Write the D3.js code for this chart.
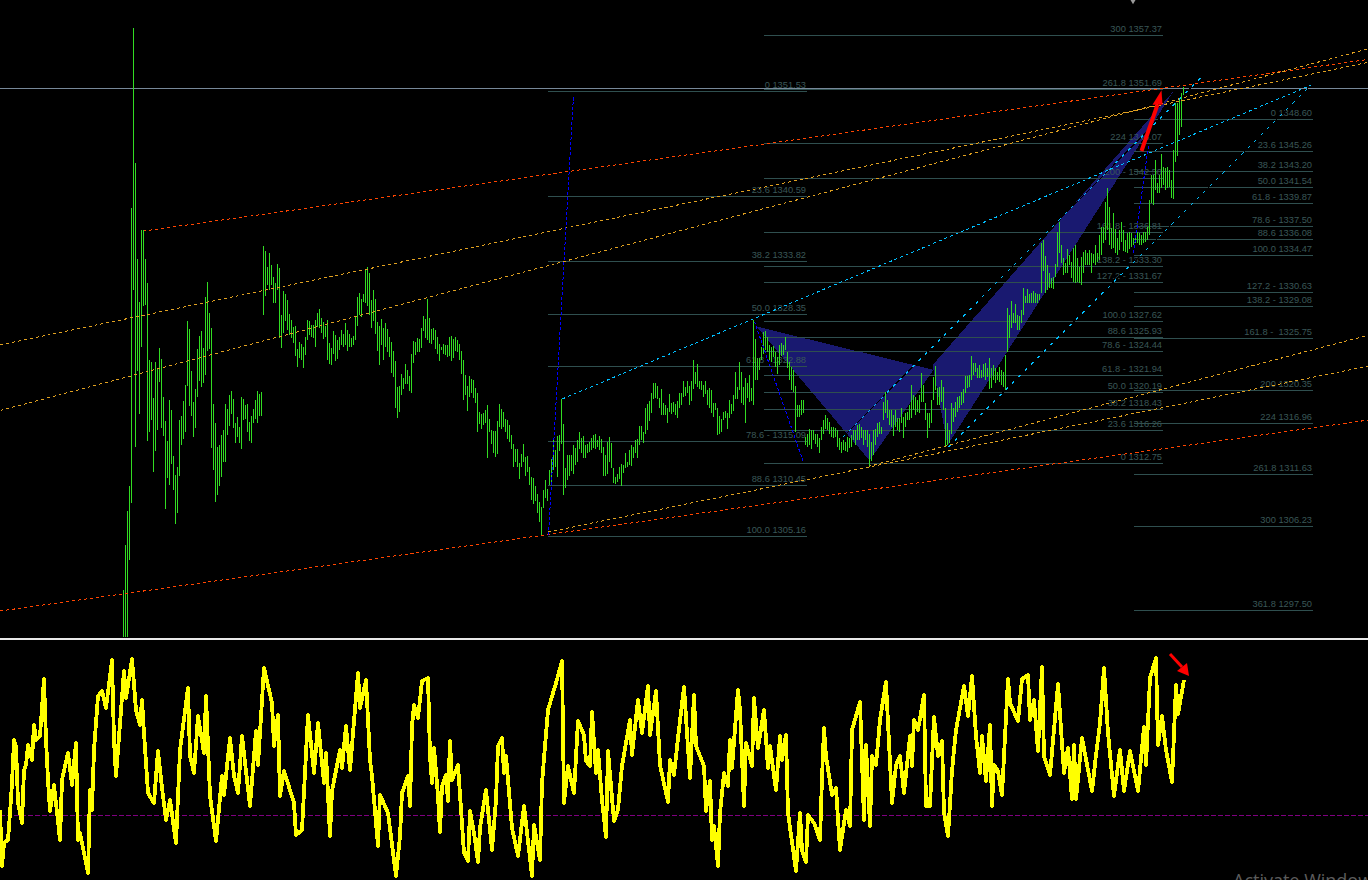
<!DOCTYPE html>
<html>
<head>
<meta charset="utf-8">
<script src="https://cdn.jsdelivr.net/npm/d3@7"></script>
<style>
  html, body { margin: 0; background: #000; overflow: hidden; }
  svg { display: block; }
  text { font-family: "Liberation Sans", Arial, sans-serif; }
</style>
</head>
<body>
<svg id="chart" width="1368" height="880"></svg>
<script>
// first bar of barHigh / barLow on the time axis
const firstBar = 61;
const barHigh = [1299.5,1304.1,1307.7,1310.3,1339.1,1357.8,1343.8,1333.8,1329.3,1336.8,1336.8,1333.8,1331.3,1323.3,1323.1,1319.4,1323.1,1322.4,1324.6,1323.4,
1319.5,1317.0,1314.9,1319.2,1318.1,1313.4,1311.4,1312.2,1317.1,1317.5,1319.1,1320.7,1327.4,1326.5,1322.2,1319.0,1320.3,1324.5,1325.8,1326.3,
1324.6,1329.9,1331.4,1328.2,1326.6,1318.8,1316.8,1314.3,1314.5,1315.6,1316.1,1318.8,1318.2,1319.7,1320.1,1319.3,1316.8,1317.4,1316.4,1319.5,
1319.3,1318.7,1318.8,1316.9,1317.5,1318.2,1319.2,1320.1,1319.8,1320.0,1335.1,1334.6,1333.0,1334.4,1333.2,1331.9,1331.3,1333.3,1332.9,1328.0,
1330.5,1330.2,1329.6,1328.1,1327.5,1326.7,1326.9,1324.5,1325.2,1325.0,1324.7,1325.7,1327.5,1327.4,1327.0,1327.0,1327.5,1328.2,1328.6,1327.7,
1327.3,1326.9,1327.5,1325.1,1324.6,1326.3,1325.9,1325.4,1325.7,1326.4,1326.0,1327.2,1326.4,1326.0,1325.6,1325.8,1327.9,1329.9,1330.3,1329.7,
1330.2,1332.7,1333.0,1332.4,1329.5,1330.6,1329.7,1327.3,1326.9,1327.6,1326.6,1327.2,1326.5,1325.7,1325.2,1324.3,1323.2,1320.5,1320.6,1321.9,
1321.5,1322.9,1322.3,1321.7,1324.0,1325.3,1325.2,1325.6,1325.5,1326.6,1327.9,1327.6,1329.7,1327.7,1326.5,1326.6,1326.4,1325.7,1325.0,1324.7,
1325.0,1324.9,1324.9,1325.7,1325.8,1325.5,1325.7,1325.4,1325.0,1324.3,1323.3,1321.8,1320.6,1321.7,1321.4,1321.3,1320.4,1319.9,1317.9,1317.7,
1317.8,1318.1,1318.7,1317.2,1316.1,1316.0,1316.0,1317.0,1318.8,1318.2,1317.9,1317.2,1317.1,1316.6,1315.6,1314.6,1314.1,1314.1,1312.6,1313.6,
1314.6,1313.3,1313.4,1312.2,1311.2,1311.1,1310.3,1309.4,1308.6,1308.1,1309.8,1310.9,1310.0,1311.9,1313.1,1315.2,1314.0,1315.4,1315.6,1319.3,
1316.7,1312.1,1313.5,1313.5,1313.5,1314.5,1314.2,1315.0,1315.9,1315.2,1315.4,1314.5,1314.6,1314.8,1315.2,1315.5,1315.7,1315.0,1315.4,1315.1,
1314.3,1313.5,1314.8,1315.3,1314.7,1312.1,1311.2,1311.5,1312.2,1312.5,1312.4,1313.7,1312.8,1314.0,1314.5,1314.3,1315.0,1315.1,1316.5,1316.5,
1315.9,1318.4,1318.8,1319.1,1319.9,1320.9,1320.9,1320.6,1319.4,1320.3,1318.9,1318.7,1318.3,1319.8,1318.9,1319.0,1318.8,1319.1,1319.9,1319.9,
1321.2,1320.5,1321.2,1320.6,1321.2,1323.3,1322.1,1322.9,1321.2,1321.2,1320.7,1321.2,1320.2,1320.4,1320.2,1318.9,1318.9,1318.3,1317.5,1317.2,
1317.9,1318.0,1317.8,1319.2,1318.8,1319.7,1322.1,1320.5,1323.1,1322.1,1320.5,1321.5,1320.9,1321.8,1320.4,1327.5,1325.5,1323.5,1323.5,1324.7,
1326.2,1326.3,1325.7,1324.9,1324.7,1324.8,1324.2,1323.6,1324.9,1325.1,1324.9,1325.7,1324.2,1323.1,1322.6,1322.3,1320.6,1318.7,1318.7,1319.2,
1319.2,1315.3,1315.7,1316.2,1316.1,1316.1,1315.7,1315.7,1315.2,1316.4,1317.1,1317.6,1317.3,1316.9,1316.4,1316.4,1316.3,1316.1,1315.2,1314.8,
1315.0,1314.8,1315.3,1315.2,1315.5,1316.1,1316.1,1316.6,1316.7,1316.4,1316.1,1316.1,1316.1,1315.7,1314.8,1316.1,1316.2,1316.8,1316.9,1316.4,
1319.0,1320.0,1319.2,1318.1,1318.1,1317.6,1318.1,1317.3,1317.3,1318.4,1317.4,1317.8,1317.9,1318.7,1320.7,1319.7,1319.5,1319.2,1319.7,1322.0,
1320.7,1318.9,1317.8,1317.8,1319.2,1321.6,1322.7,1320.4,1320.5,1321.3,1320.5,1318.3,1316.8,1316.1,1318.9,1318.4,1319.0,1319.5,1319.6,1320.0,
1320.3,1321.7,1321.7,1321.8,1323.7,1323.0,1323.0,1322.5,1322.8,1322.3,1322.9,1323.0,1322.5,1323.5,1322.5,1322.8,1322.5,1322.1,1322.6,1322.3,
1322.1,1323.8,1328.7,1328.0,1329.4,1328.2,1329.1,1328.0,1327.9,1328.5,1330.8,1330.0,1330.7,1330.2,1330.3,1330.5,1330.3,1330.2,1330.2,1335.5,
1335.8,1334.1,1333.2,1332.4,1331.8,1331.9,1333.3,1336.6,1337.6,1335.3,1333.9,1333.4,1334.8,1334.2,1333.5,1334.9,1335.3,1333.9,1333.0,1334.0,
1334.5,1334.7,1334.4,1334.7,1334.4,1334.3,1335.3,1334.4,1336.3,1337.1,1337.1,1339.7,1341.2,1339.2,1337.0,1338.6,1336.9,1336.0,1336.8,1337.6,
1336.8,1335.8,1336.5,1336.6,1336.5,1336.0,1336.3,1336.6,1336.5,1336.3,1336.6,1336.6,1337.1,1339.9,1342.5,1342.5,1344.1,1341.7,1342.5,1344.7,
1343.3,1343.2,1343.3,1343.0,1342.0,1345.1,1350.0,1350.0,1350.3,1351.0,1351.6];
const barLow = [1294.3,1294.3,1294.3,1302.6,1308.5,1330.6,1314.3,1322.2,1317.7,1324.7,1328.9,1329.0,1314.9,1315.9,1317.1,1311.7,1313.9,1316.1,1321.0,1316.3,
1315.4,1307.9,1311.1,1310.4,1312.5,1309.8,1306.3,1307.5,1311.3,1314.5,1315.1,1315.9,1320.6,1318.6,1317.5,1315.3,1316.3,1319.5,1321.2,1320.5,
1320.9,1321.8,1324.3,1324.5,1314.2,1311.9,1308.6,1309.3,1310.3,1311.2,1312.7,1312.8,1315.5,1316.5,1317.7,1316.3,1314.7,1315.3,1314.7,1314.1,
1317.1,1317.2,1315.9,1314.9,1314.7,1316.8,1317.2,1316.8,1317.5,1317.5,1328.0,1330.0,1331.1,1330.6,1331.1,1329.2,1329.2,1330.6,1325.6,1324.6,
1326.1,1327.4,1326.4,1325.9,1325.6,1325.1,1323.7,1322.6,1323.5,1323.3,1322.5,1323.8,1325.4,1325.9,1325.7,1325.6,1324.7,1326.8,1326.6,1326.1,
1325.5,1325.7,1323.3,1322.9,1322.8,1324.0,1323.2,1323.4,1324.4,1324.9,1324.7,1324.9,1324.3,1324.7,1324.7,1324.9,1325.4,1326.9,1328.0,1327.8,
1329.3,1329.2,1328.9,1328.0,1326.6,1327.4,1326.0,1324.3,1322.8,1324.9,1323.3,1324.7,1324.2,1323.6,1322.0,1321.6,1318.3,1317.3,1317.9,1319.7,
1320.3,1320.8,1320.8,1320.1,1319.9,1323.0,1323.8,1324.2,1324.2,1324.6,1326.3,1325.6,1325.4,1325.1,1325.0,1325.4,1324.5,1324.0,1323.2,1324.4,
1323.9,1323.8,1323.6,1323.7,1323.2,1323.5,1324.3,1324.2,1323.3,1321.9,1319.2,1319.7,1318.0,1319.5,1319.9,1319.4,1318.9,1315.9,1316.7,1316.2,
1316.6,1316.8,1313.2,1315.9,1314.6,1313.7,1313.3,1313.6,1316.4,1316.2,1316.4,1315.9,1315.1,1314.8,1314.1,1312.2,1312.7,1312.2,1311.0,1312.2,
1312.7,1311.3,1311.7,1310.4,1308.8,1308.4,1308.7,1307.5,1306.5,1305.1,1308.0,1309.0,1308.7,1310.4,1310.7,1311.9,1312.2,1311.2,1313.9,1314.6,
1309.3,1310.1,1310.9,1311.3,1311.8,1311.5,1312.4,1312.8,1314.1,1313.7,1313.2,1313.2,1313.7,1313.8,1314.0,1314.2,1314.1,1314.3,1314.0,1313.7,
1311.3,1311.3,1311.5,1312.7,1312.1,1310.6,1310.5,1310.7,1311.0,1310.3,1311.6,1312.1,1312.2,1312.4,1312.3,1313.2,1313.7,1313.2,1314.5,1315.0,
1314.7,1315.7,1316.1,1317.0,1317.8,1319.3,1319.4,1319.3,1318.3,1317.6,1317.6,1317.6,1316.8,1317.9,1317.7,1317.9,1317.6,1317.3,1318.4,1318.7,
1319.5,1319.6,1319.9,1318.7,1319.1,1320.3,1320.8,1320.5,1320.3,1320.2,1319.5,1319.8,1318.7,1318.4,1317.8,1317.4,1318.1,1315.5,1315.7,1315.9,
1317.1,1317.3,1316.2,1317.3,1317.7,1318.0,1319.3,1319.3,1320.2,1318.9,1318.7,1316.8,1319.4,1319.0,1319.1,1318.7,1321.3,1321.3,1322.3,1323.3,
1324.0,1324.4,1324.2,1323.3,1323.1,1323.6,1322.6,1321.9,1322.8,1323.7,1323.8,1324.4,1322.5,1321.3,1320.2,1320.0,1315.9,1317.4,1317.4,1317.6,
1317.8,1314.5,1314.3,1314.5,1314.1,1315.0,1314.6,1314.3,1313.7,1315.0,1315.7,1316.2,1316.1,1315.7,1315.3,1315.2,1315.3,1314.3,1314.0,1313.7,
1314.0,1313.9,1313.8,1314.2,1314.3,1315.0,1314.5,1315.0,1315.0,1315.2,1314.5,1315.0,1314.3,1312.3,1312.9,1313.5,1314.5,1315.3,1315.7,1315.7,
1317.1,1317.8,1317.3,1316.6,1316.4,1315.4,1316.4,1316.1,1315.9,1316.8,1315.2,1316.4,1317.1,1317.1,1317.3,1318.1,1317.6,1317.9,1317.8,1319.0,
1319.0,1317.1,1315.2,1316.3,1316.8,1319.2,1320.2,1318.7,1318.7,1319.0,1318.1,1314.3,1314.5,1314.7,1315.7,1316.9,1317.4,1317.9,1318.4,1318.7,
1318.9,1319.9,1320.4,1320.5,1321.3,1321.8,1322.1,1321.5,1321.5,1321.5,1321.6,1321.3,1321.6,1320.3,1320.4,1321.3,1320.9,1321.3,1321.0,1320.7,
1320.5,1320.2,1324.2,1325.6,1326.6,1327.2,1327.2,1326.4,1326.4,1327.2,1328.0,1329.2,1329.2,1329.2,1329.2,1329.2,1329.2,1329.2,1329.5,1330.3,
1332.6,1330.3,1330.6,1330.8,1330.8,1330.7,1331.9,1333.0,1334.4,1333.4,1332.1,1332.4,1332.4,1333.2,1331.8,1331.4,1331.3,1331.4,1331.3,1331.1,
1332.3,1333.2,1333.2,1333.2,1332.3,1333.4,1333.2,1333.5,1333.7,1334.2,1335.5,1335.8,1336.8,1335.3,1334.8,1334.9,1334.4,1334.2,1334.7,1335.6,
1334.6,1334.5,1334.4,1334.8,1335.0,1335.3,1335.5,1335.5,1335.3,1335.3,1335.5,1335.6,1335.8,1336.3,1339.6,1339.4,1341.0,1340.6,1340.6,1341.2,
1341.5,1341.0,1341.2,1341.3,1340.1,1340.0,1343.9,1344.5,1346.7,1347.5,1350.8];

// oscillator turning points: bar number and value
const oscBar = [0,1,2,4,5,6,7,8,9,11,12,13,14,16,17,18,20,22,23,24,25,27,30,31,34,36,38,39,40,44,45,46,47,49,51,53,56,57,58,62,63,66,68,70,71,72,74,77,79,81,83,85,88,90,94,95,97,99,102,103,105,108,111,112,115,117,119,121,125,128,129,132,136,137,139,140,142,147,148,151,154,157,159,162,163,165,166,170,171,173,175,179,180,183,185,186,189,190,194,198,
200,201,204,205,206,207,209,211,214,215,216,217,219,220,221,223,224,225,226,229,232,234,235,237,239,240,243,246,248,249,251,252,253,256,259,262,266,267,270,271,274,278,281,282,284,287,289,292,293,295,296,298,299,301,303,304,307,309,311,313,315,316,319,321,324,325,328,330,334,335,337,339,342,345,347,348,352,353,355,356,357,359,360,362,364,365,366,369,370,372,373,376,377,379,382,384,385,388,390,391,393,394,398,
400,401,403,404,407,410,411,412,413,416,418,420,423,425,426,430,432,433,435,436,438,440,443,446,448,450,452,455,456,457,459,462,463,465,467,469,471,472,474,476,478,482,484,486,488,490,491,493,495,496,497,499,501,504,505,509,511,514,515,517,519,521,522,525,529,532,534,536,537,538,541,546,548,550,552,554,557,560,562,565,569,572,573,575,578,579,581,583,586,588,589,592];
const oscValue = [5,-51,-28,-25,2,32,75,69,12,-8,45,50,70,55,90,75,79,136,75,35,4,30,-25,35,62,30,72,-25,-18,-58,25,5,65,119,124,107,155,75,39,144,117,156,105,90,115,82,22,12,64,27,-5,15,-28,65,127,59,42,99,62,119,19,-26,39,20,77,39,22,79,9,84,50,147,112,69,100,19,44,12,-20,-15,100,42,92,32,62,-21,24,65,47,89,45,142,107,135,55,39,-31,20,2,-61,
-21,22,39,9,89,110,97,134,137,59,32,67,19,-17,29,40,14,74,35,50,-38,-46,4,-18,-47,-13,25,-35,15,69,77,42,59,-13,-41,9,-61,-10,-45,32,105,132,154,12,49,22,94,80,54,49,103,42,65,15,-22,64,-6,5,49,72,95,60,115,82,129,80,124,50,13,55,40,77,128,37,120,69,49,4,34,-25,-11,-51,2,42,29,75,47,125,105,9,72,49,117,67,105,47,69,25,79,55,80,2,-56,
2,-35,-47,0,-8,-25,37,87,59,20,27,-35,5,-11,85,113,-5,70,-11,59,50,95,133,12,50,59,22,79,49,95,85,120,9,9,98,59,74,2,-21,44,85,129,99,139,79,42,79,34,90,9,50,44,20,136,112,94,136,140,95,115,64,148,59,40,131,42,67,16,70,16,77,24,60,92,147,82,19,65,24,64,24,88,50,137,157,70,99,65,33,130,101,135];
const oscLevel = 0;

// retracement levels, text as printed on the chart, price is the last word
const fibLeft = ['0 1351.53','23.6 1340.59','38.2 1333.82','50.0 1328.35','61.8 - 1322.88','78.6 - 1315.09','88.6 1310.45','100.0 1305.16'];
const fibMiddle = ['300 1357.37','261.8 1351.69','224 1346.07','200 - 1342.50','161.8 - 1336.81','138.2 - 1333.30','127.2 - 1331.67','100.0 1327.62','88.6 1325.93','78.6 - 1324.44','61.8 - 1321.94','50.0 1320.19','38.2 1318.43','23.6 1316.26','0 1312.75'];
const fibRight = ['0 1348.60','23.6 1345.26','38.2 1343.20','50.0 1341.54','61.8 - 1339.87','78.6 - 1337.50','88.6 1336.08','100.0 1334.47','127.2 - 1330.63','138.2 - 1329.08','161.8 -  1325.75','200 1320.35','224 1316.96','261.8 1311.63','300 1306.23','361.8 1297.50'];
// first and last bar of each retracement
const fibLeftSpan = [273, 402.5];
const fibMiddleSpan = [381, 580.5];
const fibRightSpan = [566, 655.5];
const bidPrice = 1351.8;

// trend lines: bar, price, bar, price
const redLines = [[-0.5,1297.3,683.5,1317.1],[71,1336.7,683.5,1354.5]];
const orangeLines = [[-0.5,1324.9,683.5,1354.2],[-0.5,1318.1,683.5,1355.6],[273.5,1305.5,683.5,1322.7],[433.5,1312.3,683.5,1325.9]];
const cyanLines = [[280.5,1319.3,654.5,1351.8]];
const cyanSteepLines = [[420.5,1315.3,601,1352.9],[473.5,1314.3,654.5,1351.8]];
const blueLines = [[273.5,1305.2,286,1350.8],[376.5,1327.3,401,1312.7],[566,1334.4,573.5,1345.6]];

// harmonic pattern wings: [bar, price]
const wingOne = [[377.5,1326.8],[434,1312.9],[466,1322.3]];
const wingTwo = [[465.5,1322.8],[473,1314.5],[586,1351.2]];

// arrows: [bar, price] and [bar, osc value]
const upArrowShaft = [[570,1345.0],[578,1349.8]];
const upArrowHead = [[575.5,1349.8],[580,1351.3],[580.5,1349.8]];
const downArrowShaft = [[585,161],[591,148]];
const downArrowHead = [[588.5,144],[594.5,139],[593.5,152]];

const svg = d3.select('#chart');
svg.append('rect').attr('width', 1368).attr('height', 880).attr('fill', '#000');

const x = d3.scaleLinear().domain([0, 684]).range([1.5, 1369.5]);
const y = d3.scaleLinear().domain([1360.66, 1294.6]).range([0, 637]);
const levelY = d3.scaleLinear().domain([1305.16, 1357.37]).range([536.3, 34.7]);
const oscX = d3.scaleLinear().domain([0, 592]).range([0, 1184]);
const oscY = d3.scaleLinear().domain([-65, 175]).range([880, 640]);

const snap = v => Math.round(v) + 0.5;

svg.append('clipPath').attr('id', 'pane').append('rect').attr('width', 1368).attr('height', 637);
const pane = svg.append('g').attr('clip-path', 'url(#pane)');

// wings
pane.selectAll('polygon.wing').data([wingOne, wingTwo]).enter().append('polygon')
  .attr('class', 'wing')
  .attr('points', d => d.map(p => x(p[0]) + ',' + y(p[1])).join(' '))
  .attr('fill', '#191970')
  .attr('shape-rendering', 'crispEdges');

// retracements
function drawFib(labels, span) {
  const g = pane.append('g');
  labels.forEach(function(label) {
    const price = +label.split(' ').pop();
    g.append('line')
      .attr('x1', x(span[0])).attr('x2', x(span[1]))
      .attr('y1', snap(levelY(price))).attr('y2', snap(levelY(price)))
      .attr('stroke', '#2f4f4f').attr('shape-rendering', 'crispEdges');
    g.append('text')
      .attr('x', x(span[1]) - 0.5)
      .attr('y', levelY(price) - 3)
      .attr('text-anchor', 'end')
      .attr('font-size', 9.3)
      .attr('fill', '#3a5757')
      .attr('xml:space', 'preserve')
      .text(label);
  });
}
drawFib(fibLeft, fibLeftSpan);
drawFib(fibMiddle, fibMiddleSpan);
drawFib(fibRight, fibRightSpan);

// bid line
pane.append('line')
  .attr('x1', 0).attr('x2', 1368)
  .attr('y1', snap(levelY(bidPrice))).attr('y2', snap(levelY(bidPrice)))
  .attr('stroke', '#778899').attr('shape-rendering', 'crispEdges');

// black under the steep cyan lines, shows only where they cross the wings
pane.selectAll('line.under').data(cyanSteepLines).enter().append('line')
  .attr('class', 'under')
  .attr('x1', d => x(d[0])).attr('y1', d => y(d[1]))
  .attr('x2', d => x(d[2])).attr('y2', d => y(d[3]))
  .attr('stroke', '#000').attr('shape-rendering', 'crispEdges');

// bars
pane.selectAll('line.bar').data(barHigh).enter().append('line')
  .attr('class', 'bar')
  .attr('x1', (d, i) => x(firstBar + i)).attr('x2', (d, i) => x(firstBar + i))
  .attr('y1', d => y(d)).attr('y2', (d, i) => y(barLow[i]))
  .attr('stroke', '#32dc22')
  .attr('shape-rendering', 'crispEdges');

function drawTrend(lines, color, dash) {
  pane.append('g').selectAll('line').data(lines).enter().append('line')
    .attr('x1', d => x(d[0])).attr('y1', d => y(d[1]))
    .attr('x2', d => x(d[2])).attr('y2', d => y(d[3]))
    .attr('stroke', color)
    .attr('stroke-dasharray', dash)
    .attr('shape-rendering', 'crispEdges');
}
drawTrend(redLines, '#ff4500', '3,3');
drawTrend(orangeLines, '#e0a020', '3,3');
drawTrend(cyanLines, '#00bfff', '3,3');
drawTrend(cyanSteepLines, '#00bfff', '3,6');
drawTrend(blueLines, '#0000ff', '3,2');

// red arrow on the price pane
const priceLine = d3.line().x(d => x(d[0])).y(d => y(d[1]));
pane.append('path').attr('d', priceLine(upArrowShaft)).attr('stroke', '#ff0000').attr('stroke-width', 4).attr('fill', 'none');
pane.append('path').attr('d', priceLine(upArrowHead) + 'Z').attr('fill', '#ff0000');

// small grey marker at the top edge
svg.append('path').attr('d', d3.symbol().type(d3.symbolDiamond).size(22)()).attr('transform', 'translate(1133,0)').attr('fill', '#9a9a9a');

// pane separator
svg.append('rect').attr('x', 0).attr('y', 638).attr('width', 1368).attr('height', 2).attr('fill', '#e8e8e8');

// oscillator
svg.append('line')
  .attr('x1', 0).attr('x2', 1368)
  .attr('y1', snap(oscY(oscLevel))).attr('y2', snap(oscY(oscLevel)))
  .attr('stroke', '#800080')
  .attr('stroke-dasharray', '5,2')
  .attr('shape-rendering', 'crispEdges');

const oscLine = d3.line().x((d, i) => oscX(oscBar[i])).y(d => oscY(d));
svg.append('path')
  .attr('d', oscLine(oscValue))
  .attr('fill', 'none')
  .attr('stroke', '#ffff00')
  .attr('stroke-width', 3.8)
  .attr('stroke-linejoin', 'round')
  .attr('shape-rendering', 'crispEdges');

const oscArrow = d3.line().x(d => oscX(d[0])).y(d => oscY(d[1]));
svg.append('path').attr('d', oscArrow(downArrowShaft)).attr('stroke', '#ff0000').attr('stroke-width', 3).attr('fill', 'none');
svg.append('path').attr('d', oscArrow(downArrowHead) + 'Z').attr('fill', '#ff0000');

// windows watermark, cut off by the window edge
svg.append('text')
  .attr('x', 1233).attr('y', 887)
  .attr('font-size', 18)
  .attr('fill', '#5c5c5c')
  .style('font-family', '"Open Sans", sans-serif')
  .text('Activate Windows');
</script>
</body>
</html>
